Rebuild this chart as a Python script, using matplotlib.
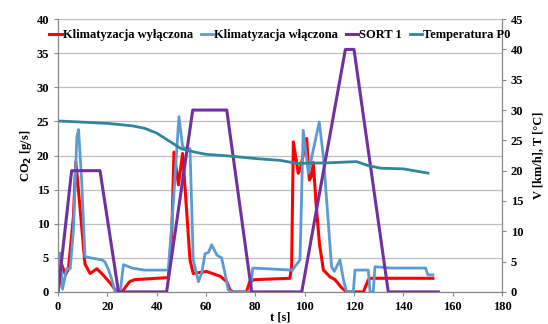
import numpy as np
import matplotlib.pyplot as plt

plt.rcParams['font.family'] = ['Liberation Serif', 'DejaVu Serif']
plt.rcParams['font.weight'] = 'bold'

# Klimatyzacja wyłączona (CO2, left axis)
t_off = [0, 1.5, 3, 4.2, 6.2, 7.2, 8.9, 10.9, 13, 15.7, 17.7, 19.7, 21.8, 23.8, 26, 27.5, 29, 31,
         44.7, 46.1, 47, 48.8, 50.5, 53.5, 54.8, 60.2, 65.7, 68.4, 69.7, 71, 76.4, 77.7, 79.7,
         94, 94.7, 95.4, 97.4, 98.2, 100.8, 101.9, 102.8, 103.5, 104.6, 106, 107.6, 110.3,
         112.3, 115, 117, 123.8, 125.8, 127, 152]
co2_off = [0, 4, 2.5, 3.4, 11, 19.1, 12.3, 4.1, 2.7, 3.4, 2.7, 1.9, 1, 0, 0, 0.8, 1.5, 1.8,
           2.1, 8.6, 20.5, 15.7, 20.3, 4.7, 2.7, 3, 2.3, 1.5, 0.3, 0, 0, 1.5, 1.8,
           2, 3.7, 22, 17.4, 18, 22.5, 16.4, 17, 19, 13, 7, 3.2, 2.2,
           1.8, 0.6, 0, 0, 1.8, 2, 2]

# Klimatyzacja włączona (CO2, left axis)
t_on = [0, 0.8, 1.8, 3.5, 4.9, 6.2, 7.6, 8.3, 9.6, 10.9, 13, 17.7, 19, 20.4, 21.8, 23.1, 25.2,
        26.5, 30, 35, 44.7, 46.8, 49, 50.5, 52.5, 53.5, 54.8, 56.9, 58.2, 59.6, 61, 62.3, 64.4,
        66.3, 67.7, 69, 70.4, 78, 78.9, 95, 98.1, 99.4, 101.5, 103, 105.9, 107.6, 110.9, 112,
        114.3, 115.7, 117, 119.7, 120.4, 125.8, 126.5, 127.8, 128.5, 135, 149, 150, 152]
co2_on = [0, 5.7, 0.4, 3.4, 3.4, 9, 22.7, 23.8, 16, 5.2, 5, 4.7, 4.4, 3.3, 1.8, 0, 0,
          4, 3.5, 3.2, 3.2, 13.5, 25.7, 21.3, 20.8, 21, 4.7, 1.5, 2.7, 5.6, 5.8, 6.9, 5.4,
          5, 2.7, 0.3, 0, 0, 3.5, 3.2, 4.7, 23.7, 17.4, 20, 24.9, 19.8, 3.7, 3,
          4.7, 1.8, 0, 0, 3.2, 3.2, 0, 0, 3.7, 3.5, 3.5, 2.5, 2.5]

# SORT 1 (V, right axis)
t_sort = [0, 5.5, 17, 24.5, 44, 54.6, 68.4, 78.5, 98.8, 116.5, 120, 133.9, 154.2]
v_sort = [0, 20, 20, 0, 0, 30, 30, 0, 0, 40, 40, 0, 0]

# Temperatura P0 (T, right axis)
t_temp = [0, 10, 20, 30, 35, 40, 45, 50, 55, 60, 70, 80, 90, 97, 110, 121, 126, 131, 140, 150]
temp = [28.2, 28.0, 27.8, 27.4, 27.0, 26.2, 24.9, 23.6, 23.1, 22.7, 22.4, 22.0, 21.7, 21.2,
        21.3, 21.5, 20.8, 20.4, 20.3, 19.6]

fig = plt.figure(figsize=(5.48, 3.24), dpi=100)
ax = fig.add_axes([0.106, 0.099, 0.81, 0.842])
ax2 = ax.twinx()

ax.plot(t_off, co2_off, color='#FF0000', lw=2.2, label='Klimatyzacja wyłączona', zorder=3)
ax.plot(t_on, co2_on, color='#5B9BD5', lw=2.0, label='Klimatyzacja włączona', zorder=4)
ax2.plot(t_sort, v_sort, color='#7030A0', lw=2.2, label='SORT 1')
ax2.plot(t_temp, temp, color='#31859C', lw=2.0, label='Temperatura P0')

ax.set_xlim(0, 180)
ax.set_ylim(0, 40)
ax2.set_ylim(0, 45)
ax.set_xticks(np.arange(0, 181, 20))
ax.set_yticks(np.arange(0, 41, 5))
ax2.set_yticks(np.arange(0, 46, 5))
ax.yaxis.grid(True, color='#BFBFBF', lw=0.9)
ax.set_axisbelow(True)

for a in (ax, ax2):
    a.tick_params(labelsize=9, length=3, color='#888888', width=0.8)
    for s in a.spines.values():
        s.set_color('#888888')
    a.spines['top'].set_visible(False)

ax.set_xlabel('t [s]', fontsize=9, fontweight='bold', labelpad=-1)
ax.set_ylabel('CO$_\\mathbf{2}$ [g/s]', fontsize=9, fontweight='bold', labelpad=2)
ax2.set_ylabel('V [km/h], T [°C]', fontsize=9, fontweight='bold', labelpad=6)

h1, l1 = ax.get_legend_handles_labels()
h2, l2 = ax2.get_legend_handles_labels()
ax2.legend(h1 + h2, l1 + l2, loc='upper center', bbox_to_anchor=(0.5, 1.005), ncol=4,
           frameon=False, handlelength=1.0, handletextpad=0.1,
           columnspacing=0.6, prop={'weight': 'bold', 'size': 9})

fig.savefig('out.png', dpi=100)
